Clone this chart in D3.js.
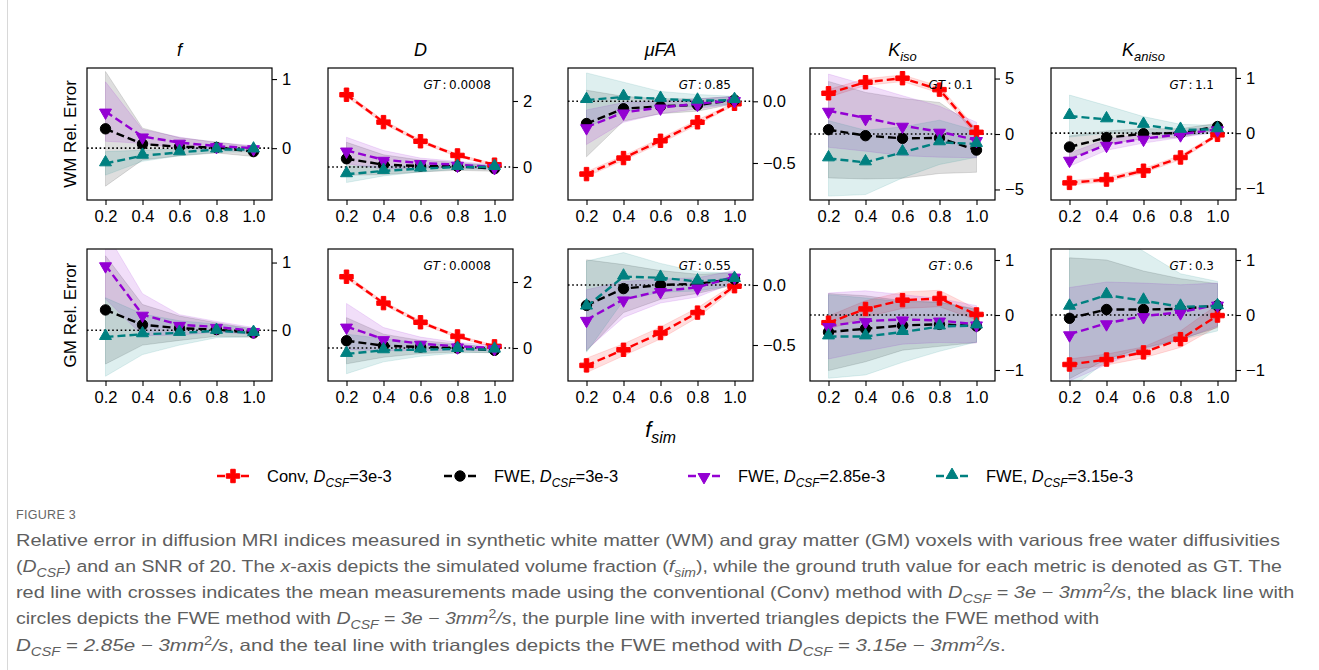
<!DOCTYPE html>
<html>
<head>
<meta charset="utf-8">
<script src="https://cdn.jsdelivr.net/npm/d3@7"></script>
<style>
body { margin: 0; background: #fff; }
svg { display: block; font-family: "Liberation Sans", Arial, sans-serif; }
</style>
</head>
<body>
<svg id="chart" width="1319" height="670"></svg>
<script>
// ---- data ----
const fsim = [0.2, 0.4, 0.6, 0.8, 1.0];
const xTickLabels = ["0.2", "0.4", "0.6", "0.8", "1.0"];
const gtWM = [null, "0.0008", "0.85", "0.1", "1.1"];
const gtGM = [null, "0.0008", "0.55", "0.6", "0.3"];
const rowLabels = ["WM Rel. Error", "GM Rel. Error"];

const yDomWM = [[-0.75, 1.16], [-1, 3], [-0.8, 0.27], [-5.95, 5.95], [-1.21, 1.18]];
const yDomGM = [[-0.75, 1.2], [-1, 3], [-0.8, 0.3], [-1.2, 1.2], [-1.2, 1.2]];
const yTicksWM = [[0, 1], [0, 2], [-0.5, 0.0], [-5, 0, 5], [-1, 0, 1]];
const yTicksGM = [[0, 1], [0, 2], [-0.5, 0.0], [-1, 0, 1], [-1, 0, 1]];

// rows = metrics (f, D, uFA, Kiso, Kaniso), columns = fsim
const wmConv = [null, [2.19, 1.36, 0.78, 0.35, 0.07], [-0.59, -0.46, -0.32, -0.17, -0.02], [3.67, 4.67, 5.03, 4.0, 0.15], [-0.9, -0.84, -0.68, -0.44, -0.03]];
const wmConvSd = [null, [0.06, 0.05, 0.05, 0.04, 0.03], [0.02, 0.02, 0.02, 0.02, 0.01], [0.35, 0.3, 0.3, 0.3, 0.3], [0.04, 0.04, 0.04, 0.04, 0.03]];
const wmFwe = [[0.28, 0.06, 0.02, 0.01, -0.05], [0.25, 0.07, 0.03, 0.02, -0.05], [-0.18, -0.06, -0.04, -0.03, 0.01], [0.39, -0.15, -0.39, -0.36, -1.45], [-0.25, -0.08, -0.01, 0, 0.12]];
const wmFweSd = [[0.83, 0.23, 0.13, 0.08, 0.07], [0.5, 0.3, 0.18, 0.12, 0.08], [0.27, 0.1, 0.06, 0.05, 0.03], [4.35, 3.9, 3.6, 3.2, 2.0], [0.2, 0.12, 0.09, 0.08, 0.06]];
const wmFwe285 = [[0.53, 0.17, 0.08, 0.03, 0.0], [0.5, 0.22, 0.12, 0.07, 0.0], [-0.21, -0.09, -0.05, -0.02, 0.01], [2.1, 1.45, 0.75, 0.21, -0.54], [-0.48, -0.21, -0.1, -0.02, 0.07]];
const wmFwe285Sd = [[0.43, 0.1, 0.08, 0.05, 0.04], [0.4, 0.28, 0.15, 0.1, 0.07], [0.14, 0.08, 0.05, 0.04, 0.03], [3.3, 3.0, 2.7, 2.3, 1.6], [0.12, 0.1, 0.08, 0.06, 0.05]];
const wmFwe315 = [[-0.22, -0.11, -0.06, -0.02, -0.02], [-0.22, -0.12, -0.05, 0, 0], [0.01, 0.035, 0.02, 0.005, 0.01], [-2.2, -2.56, -1.66, -0.75, -0.9], [0.31, 0.25, 0.15, 0.06, 0.07]];
const wmFwe315Sd = [[0.17, 0.08, 0.05, 0.04, 0.03], [0.25, 0.15, 0.1, 0.07, 0.06], [0.22, 0.12, 0.06, 0.05, 0.03], [3.4, 2.9, 2.3, 2.0, 1.2], [0.38, 0.25, 0.15, 0.1, 0.07]];

const gmConv = [null, [2.16, 1.36, 0.78, 0.35, 0.05], [-0.67, -0.54, -0.40, -0.23, -0.01], [-0.14, 0.11, 0.27, 0.3, 0.01], [-0.9, -0.81, -0.68, -0.44, -0.01]];
const gmConvSd = [null, [0.06, 0.05, 0.05, 0.04, 0.03], [0.06, 0.05, 0.05, 0.04, 0.02], [0.12, 0.15, 0.15, 0.15, 0.1], [0.1, 0.1, 0.1, 0.15, 0.2]];
const gmFwe = [[0.30, 0.08, 0.03, 0.01, -0.04], [0.22, 0.07, 0.03, 0, -0.07], [-0.17, -0.03, 0, 0.01, 0.05], [-0.31, -0.25, -0.19, -0.17, -0.2], [-0.06, 0.1, 0.1, 0.11, 0.17]];
const gmFweSd = [[0.8, 0.3, 0.18, 0.1, 0.06], [0.7, 0.35, 0.2, 0.12, 0.08], [0.38, 0.2, 0.12, 0.08, 0.05], [0.7, 0.6, 0.45, 0.4, 0.3], [1.1, 0.9, 0.7, 0.55, 0.4]];
const gmFwe285 = [[0.96, 0.23, 0.08, 0.05, -0.01], [0.65, 0.27, 0.13, 0.05, 0], [-0.29, -0.12, -0.05, -0.02, 0.07], [-0.2, -0.11, -0.08, -0.1, -0.17], [-0.35, -0.15, -0.02, 0.05, 0.19]];
const gmFwe285Sd = [[0.5, 0.31, 0.15, 0.08, 0.05], [0.7, 0.35, 0.2, 0.12, 0.08], [0.25, 0.15, 0.1, 0.08, 0.05], [0.6, 0.55, 0.45, 0.4, 0.34], [0.85, 0.75, 0.6, 0.5, 0.39]];
const gmFwe315 = [[-0.1, -0.06, -0.04, -0.01, -0.04], [-0.18, -0.07, -0.05, -0.03, -0.05], [-0.18, 0.07, 0.06, 0.03, 0.05], [-0.39, -0.39, -0.31, -0.21, -0.19], [0.15, 0.36, 0.26, 0.15, 0.16]];
const gmFwe315Sd = [[0.58, 0.3, 0.18, 0.1, 0.06], [0.6, 0.35, 0.2, 0.12, 0.08], [0.38, 0.2, 0.12, 0.08, 0.05], [0.76, 0.7, 0.55, 0.45, 0.3], [1.5, 1.2, 0.9, 0.6, 0.45]];

const seriesNames = ["Conv", "FWE", "FWE", "FWE"];
const seriesDcsf = ["3e-3", "3e-3", "2.85e-3", "3.15e-3"];
const seriesColors = ["#ff0000", "#000000", "#9400d3", "#008080"];

// ---- layout ----
const panelX = [87, 328, 568, 810, 1051];
const panelY = [68, 249];
const pw = 185, ph = 132;
const tickFont = "Liberation Sans, Arial, sans-serif";

const series = [
  { color: seriesColors[0], marker: "plus", mean: [wmConv, gmConv], sd: [wmConvSd, gmConvSd] },
  { color: seriesColors[1], marker: "circle", mean: [wmFwe, gmFwe], sd: [wmFweSd, gmFweSd] },
  { color: seriesColors[2], marker: "down", mean: [wmFwe285, gmFwe285], sd: [wmFwe285Sd, gmFwe285Sd] },
  { color: seriesColors[3], marker: "up", mean: [wmFwe315, gmFwe315], sd: [wmFwe315Sd, gmFwe315Sd] },
];

const svg = d3.select("#chart");
const defs = svg.append("defs");

// card edge on the left
svg.append("line")
  .attr("x1", 7.5).attr("x2", 7.5).attr("y1", 0).attr("y2", 670)
  .attr("stroke", "#d8d8d8").attr("stroke-width", 1);

function markerPath(kind) {
  if (kind === "plus") return d3.symbol(d3.symbolCross, 100)();
  if (kind === "circle") return d3.symbol(d3.symbolCircle, 85)();
  return d3.symbol(d3.symbolTriangle, 62)();
}
function drawMarker(g, kind, color, cx, cy) {
  const rot = kind === "down" ? 180 : 0;
  const dy = kind === "down" ? 1 : (kind === "up" ? -1 : 0);
  g.append("path")
    .attr("d", markerPath(kind))
    .attr("transform", `translate(${cx},${cy + dy}) rotate(${rot})`)
    .attr("fill", color)
    .attr("stroke", color)
    .attr("stroke-width", 1);
}

// rich text: parts = [{t, i, s}] where s = "sub" | "sup"
function rich(textSel, parts, fs) {
  let shift = 0;
  parts.forEach(p => {
    const want = p.s === "sub" ? fs * 0.28 : (p.s === "sup" ? -fs * 0.38 : 0);
    const ts = textSel.append("tspan").text(p.t).attr("dy", want - shift);
    shift = want;
    if (p.i) ts.attr("font-style", "italic");
    if (p.s) ts.attr("font-size", fs * 0.72);
  });
  return textSel;
}

const titleParts = [
  [{ t: "f", i: 1 }],
  [{ t: "D", i: 1 }],
  [{ t: "μFA", i: 1 }],
  [{ t: "K", i: 1 }, { t: "iso", i: 1, s: "sub" }],
  [{ t: "K", i: 1 }, { t: "aniso", i: 1, s: "sub" }],
];

const x = d3.scaleLinear().domain([0.1, 1.1]).range([0, pw]);

for (let r = 0; r < 2; r++) {
  const yDom = r === 0 ? yDomWM : yDomGM;
  const yTicks = r === 0 ? yTicksWM : yTicksGM;
  const gts = r === 0 ? gtWM : gtGM;

  for (let c = 0; c < 5; c++) {
    const g = svg.append("g").attr("transform", `translate(${panelX[c]},${panelY[r]})`);
    const y = d3.scaleLinear().domain(yDom[c]).range([ph, 0]);
    const clipId = `clip-${r}-${c}`;
    defs.append("clipPath").attr("id", clipId)
      .append("rect").attr("width", pw).attr("height", ph);
    const body = g.append("g").attr("clip-path", `url(#${clipId})`);

    // bands
    series.forEach(s => {
      const m = s.mean[r][c];
      if (!m) return;
      const sd = s.sd[r][c];
      const pts = fsim.map((f, i) => ({ f, lo: m[i] - sd[i], hi: m[i] + sd[i] }));
      body.append("path")
        .datum(pts)
        .attr("d", d3.area().x(d => x(d.f)).y0(d => y(d.lo)).y1(d => y(d.hi)))
        .attr("fill", s.color)
        .attr("fill-opacity", 0.13)
        .attr("stroke", s.color)
        .attr("stroke-opacity", 0.12)
        .attr("stroke-width", 1);
    });

    // zero reference line
    body.append("line")
      .attr("x1", 0).attr("x2", pw)
      .attr("y1", y(0)).attr("y2", y(0))
      .attr("stroke", "#000").attr("stroke-width", 1.6)
      .attr("stroke-dasharray", "1.6,2.6");

    // dashed mean lines + markers
    series.forEach(s => {
      const m = s.mean[r][c];
      if (!m) return;
      const pts = fsim.map((f, i) => [x(f), y(m[i])]);
      body.append("path")
        .attr("d", d3.line()(pts))
        .attr("fill", "none")
        .attr("stroke", s.color)
        .attr("stroke-width", 2.4)
        .attr("stroke-dasharray", "8,4");
      pts.forEach(p => drawMarker(body, s.marker, s.color, p[0], p[1]));
    });

    // frame
    g.append("rect").attr("width", pw).attr("height", ph)
      .attr("fill", "none").attr("stroke", "#000").attr("stroke-width", 1.2);

    // x axis
    const xa = g.append("g").attr("transform", `translate(0,${ph})`)
      .call(d3.axisBottom(x).tickValues(fsim).tickFormat((d, i) => xTickLabels[i]).tickSize(5).tickPadding(5));
    xa.select(".domain").remove();
    xa.selectAll("text").attr("font-size", 16.5).attr("font-family", tickFont).attr("fill", "#000");
    xa.selectAll("line").attr("stroke-width", 1.1);

    // right y axis
    const ya = g.append("g").attr("transform", `translate(${pw},0)`)
      .call(d3.axisRight(y).tickValues(yTicks[c])
        .tickFormat(d => {
          const s = (c === 2) ? d3.format(".1f")(d) : d3.format("d")(d);
          return s.replace("-", "\u2212");
        })
        .tickSize(5).tickPadding(5));
    ya.select(".domain").remove();
    ya.selectAll("text").attr("font-size", 16.5).attr("font-family", tickFont).attr("fill", "#000");
    ya.selectAll("line").attr("stroke-width", 1.1);

    // GT annotation (mathtext style)
    if (gts[c]) {
      rich(g.append("text")
        .attr("x", pw - 22).attr("y", 21)
        .attr("text-anchor", "end")
        .attr("font-family", "DejaVu Sans, sans-serif")
        .attr("font-size", 12), [{ t: "GT", i: 1 }, { t: "\u2009:\u2009" + gts[c] }], 12);
    }

    // titles
    if (r === 0) {
      rich(g.append("text")
        .attr("x", pw / 2).attr("y", -12)
        .attr("text-anchor", "middle")
        .attr("font-size", 18), titleParts[c], 18);
    }
  }

  // row label
  svg.append("text")
    .attr("transform", `translate(76,${panelY[r] + ph / 2}) rotate(-90)`)
    .attr("text-anchor", "middle")
    .attr("font-size", 17)
    .text(rowLabels[r]);
}

// x label
rich(svg.append("text")
  .attr("x", panelX[2] + pw / 2).attr("y", 437)
  .attr("text-anchor", "middle")
  .attr("font-size", 22), [{ t: "f", i: 1 }, { t: "sim", i: 1, s: "sub" }], 22);

// legend
const legendX = [233, 460, 704, 952];
const legendY = 476;
series.forEach((s, i) => {
  const lg = svg.append("g");
  lg.append("line")
    .attr("x1", legendX[i] - 18).attr("x2", legendX[i] + 18)
    .attr("y1", legendY).attr("y2", legendY)
    .attr("stroke", s.color).attr("stroke-width", 2.4)
    .attr("stroke-dasharray", "8,4").attr("stroke-dashoffset", -2);
  drawMarker(lg, s.marker, s.color, legendX[i], legendY);
  rich(lg.append("text")
    .attr("x", legendX[i] + 34).attr("y", legendY + 6)
    .attr("font-size", 16.5),
    [{ t: seriesNames[i] + ", " }, { t: "D", i: 1 }, { t: "CSF", i: 1, s: "sub" }, { t: "=" + seriesDcsf[i] }], 16.5);
});

// caption
const capColor = "#5e5e5e";
svg.append("text")
  .attr("x", 16).attr("y", 519)
  .attr("font-size", 12.5)
  .attr("fill", "#666")
  .attr("letter-spacing", 0.3)
  .text("FIGURE 3");

const D = [{ t: "D", i: 1 }, { t: "CSF", i: 1, s: "sub" }];
const unit = v => [{ t: " = " }, { t: v + "e − 3mm", i: 1 }, { t: "2", s: "sup" }, { t: "/s", i: 1 }];
const captionLines = [
  { y: 546, w: 1265, parts: [{ t: "Relative error in diffusion MRI indices measured in synthetic white matter (WM) and gray matter (GM) voxels with various free water diffusivities" }] },
  { y: 572, w: 1267, parts: [{ t: "(" }, ...D, { t: ") and an SNR of 20. The " }, { t: "x", i: 1 }, { t: "-axis depicts the simulated volume fraction (" }, { t: "f", i: 1 }, { t: "sim", i: 1, s: "sub" }, { t: "), while the ground truth value for each metric is denoted as GT. The" }] },
  { y: 598, w: 1280, parts: [{ t: "red line with crosses indicates the mean measurements made using the conventional (Conv) method with " }, ...D, ...unit("3"), { t: ", the black line with" }] },
  { y: 624, w: 1084, parts: [{ t: "circles depicts the FWE method with " }, ...D, ...unit("3"), { t: ", the purple line with inverted triangles depicts the FWE method with" }] },
  { y: 651, w: 990, parts: [...D, ...unit("2.85"), { t: ", and the teal line with triangles depicts the FWE method with " }, ...D, ...unit("3.15"), { t: "." }] },
];
captionLines.forEach(l => {
  const t = svg.append("text")
    .attr("font-size", 16.5)
    .attr("fill", capColor);
  rich(t, l.parts, 16.5);
  const bw = t.node().getBBox().width;
  t.attr("transform", `translate(16,${l.y}) scale(${l.w / bw},1)`);
});
</script>
</body>
</html>
